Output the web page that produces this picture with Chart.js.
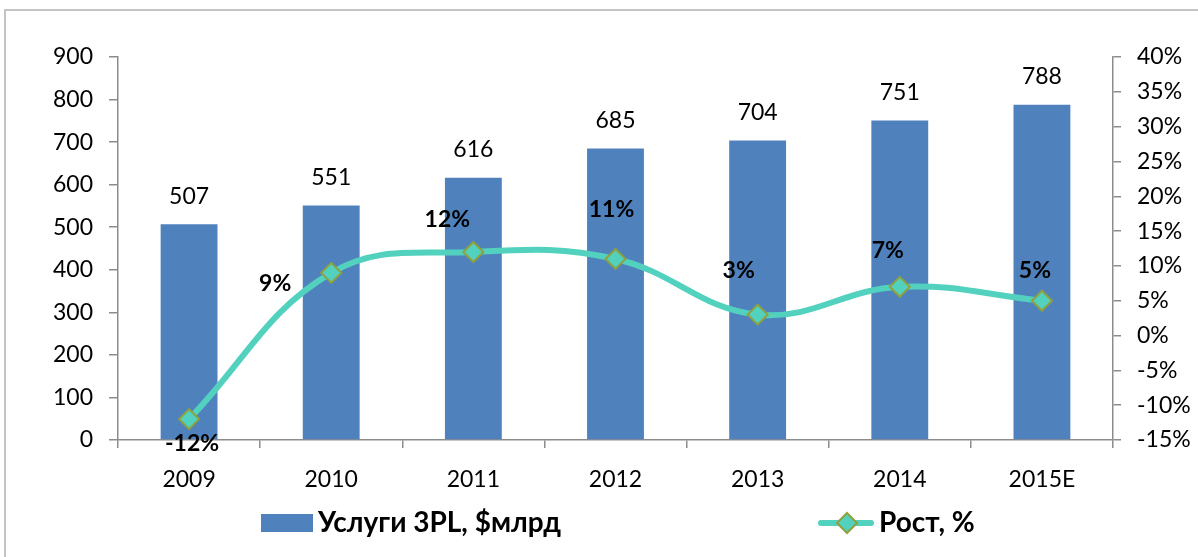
<!DOCTYPE html>
<html lang="ru">
<head>
    <meta charset="UTF-8">
    <title>Услуги 3PL</title>
    <script src="https://cdn.jsdelivr.net/npm/chart.js"></script>
    <style>
        html, body { margin: 0; padding: 0; background: #fff; overflow: hidden; }
        #wrap { position: relative; width: 1198px; height: 557px; }
        #frame { position: absolute; left: 4px; top: 9px; width: 1300px; height: 700px; border: 2px solid #c4c4c4; box-sizing: border-box; }
        canvas { position: absolute; left: 0; top: 0; }
    </style>
</head>
<body>
<div id="wrap">
    <div id="frame"></div>
    <canvas id="graphe" width="1198" height="557"></canvas>
</div>
<script>
// données
const annees = ['2009', '2010', '2011', '2012', '2013', '2014', '2015E'];
const services3pl = [507, 551, 616, 685, 704, 751, 788];
const croissance = [-12, 9, 12, 11, 3, 7, 5];

const BLEU = '#4f81bd';
const TURQUOISE = '#52d1bf';
const OLIVE = '#8fa13e';
const GRIS = '#8c8c8c';
const police = 'Lato, "Open Sans", sans-serif';

// étiquettes de valeurs (barres + courbe)
const etiquettes = {
    id: 'etiquettes',
    afterDatasetsDraw(chart, args, opts) {
        const ctx = chart.ctx;
        ctx.save();
        ctx.textAlign = 'center';
        ctx.textBaseline = 'middle';
        ctx.fillStyle = '#000';
        // barres
        ctx.font = '23px ' + police;
        chart.getDatasetMeta(0).data.forEach((bar, i) => {
            ctx.fillText(services3pl[i], bar.x, bar.y - 28);
        });
        // courbe
        ctx.font = 'bold 23px ' + police;
        chart.getDatasetMeta(1).data.forEach((pt, i) => {
            const d = opts.decalages[i];
            ctx.fillText(croissance[i] + '%', pt.x + d[0], pt.y + d[1]);
        });
        ctx.restore();
    }
};

// légende dessinée à la main (espacement façon Excel)
const legende = {
    id: 'legende',
    afterDraw(chart) {
        const ctx = chart.ctx;
        const y = 523;
        ctx.save();
        ctx.font = 'bold 28px ' + police;
        ctx.textBaseline = 'middle';
        ctx.fillStyle = BLEU;
        ctx.fillRect(261, y - 9, 52, 18);
        ctx.fillStyle = '#000';
        ctx.fillText(chart.data.datasets[0].label, 318, y);

        ctx.strokeStyle = TURQUOISE;
        ctx.lineWidth = 6;
        ctx.lineCap = 'round';
        ctx.beginPath();
        ctx.moveTo(821, y);
        ctx.lineTo(871, y);
        ctx.stroke();
        ctx.beginPath();
        ctx.moveTo(847, y - 10);
        ctx.lineTo(857, y);
        ctx.lineTo(847, y + 10);
        ctx.lineTo(837, y);
        ctx.closePath();
        ctx.fillStyle = TURQUOISE;
        ctx.fill();
        ctx.strokeStyle = OLIVE;
        ctx.lineWidth = 2;
        ctx.stroke();
        ctx.fillStyle = '#000';
        ctx.fillText(chart.data.datasets[1].label, 879, y);
        ctx.restore();
    }
};

new Chart(document.getElementById('graphe').getContext('2d'), {
    data: {
        labels: annees,
        datasets: [{
            type: 'bar',
            label: 'Услуги 3PL, $млрд',
            data: services3pl,
            backgroundColor: BLEU,
            barPercentage: 0.4,
            categoryPercentage: 1,
            yAxisID: 'y',
            order: 1
        }, {
            type: 'line',
            label: 'Рост, %',
            data: croissance,
            borderColor: TURQUOISE,
            borderWidth: 6,
            tension: 0.4,
            pointStyle: 'rectRot',
            pointRadius: 10,
            pointBackgroundColor: TURQUOISE,
            pointBorderColor: OLIVE,
            pointBorderWidth: 2,
            yAxisID: 'y1',
            order: 0
        }]
    },
    options: {
        responsive: false,
        animation: false,
        layout: { padding: { top: 57, left: 0, right: 0, bottom: 0 } },
        plugins: {
            legend: { display: false },
            tooltip: { enabled: false },
            etiquettes: {
                decalages: [[3, 24], [-56, 11], [-26, -32], [-4, -49], [-19, -44], [-12, -36], [-7, -30]]
            }
        },
        scales: {
            x: {
                offset: true,
                grid: { offset: true, drawOnChartArea: false, tickLength: 8, color: GRIS, lineWidth: 1.5 },
                border: { color: GRIS, width: 1.5 },
                ticks: { color: '#000', font: { family: police, size: 23 }, padding: 18 },
                afterFit: s => { s.height = 117; }
            },
            y: {
                position: 'left',
                min: 0,
                max: 900,
                ticks: { stepSize: 100, color: '#000', font: { family: police, size: 23 }, padding: 16 },
                grid: { drawOnChartArea: false, tickLength: 9, color: GRIS, lineWidth: 1.5 },
                border: { color: GRIS, width: 1.5 },
                afterFit: s => { s.width = 118; }
            },
            y1: {
                position: 'right',
                min: -15,
                max: 40,
                ticks: { stepSize: 5, color: '#000', font: { family: police, size: 23 }, padding: 16,
                    callback: v => v + '%' },
                grid: { drawOnChartArea: false, tickLength: 8, color: GRIS, lineWidth: 1.5 },
                border: { color: GRIS, width: 1.5 },
                afterFit: s => { s.width = 85; }
            }
        }
    },
    plugins: [etiquettes, legende]
});
</script>
</body>
</html>
